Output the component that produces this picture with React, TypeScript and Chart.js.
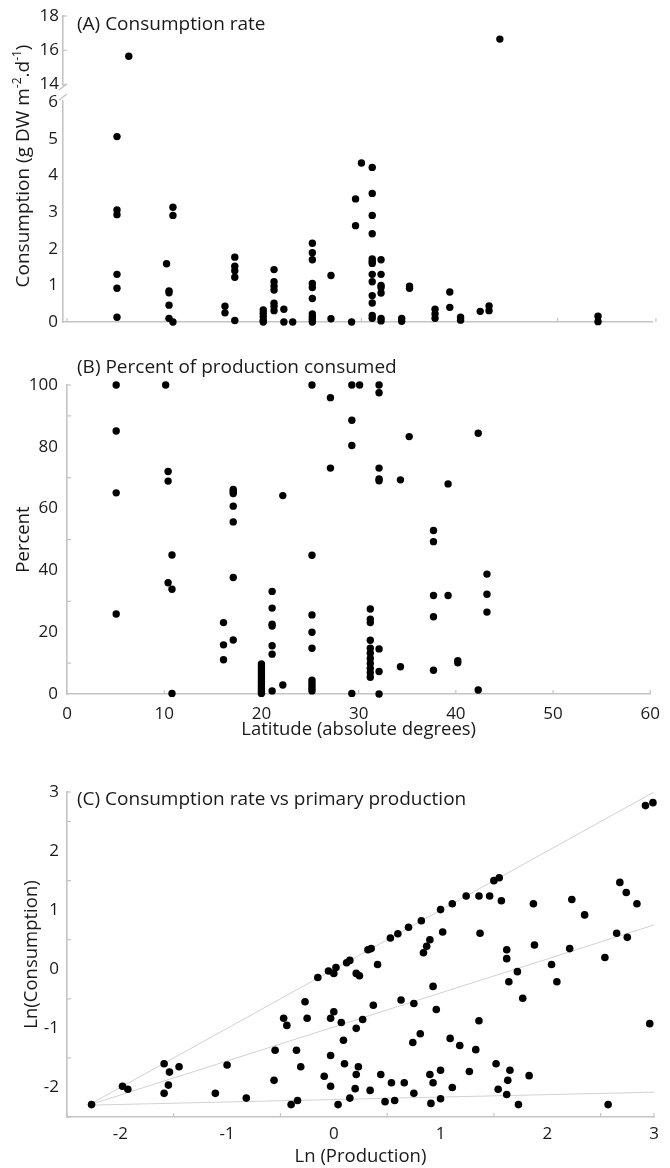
import React, { useEffect, useRef } from "react";
import { Chart, registerables } from "chart.js";
Chart.register(...registerables);

const FONT = '"Open Sans", "Noto Sans", sans-serif';
const AXIS = "#c4c4c4";
const TXT = "#1a1a1a";
const DOT = "#000000";

// ---------- Panel A: consumption rate vs latitude ----------
const latLow = [
  5.1, 5.1, 5.1, 5.1, 5.1, 5.1,
  10.15, 10.4, 10.4, 10.4, 10.4, 10.8, 10.8, 10.8,
  16.1, 16.1,
  17.1, 17.1, 17.1, 17.1, 17.1,
  20.0, 20.0, 20.0, 20.0, 20.0,
  21.1, 21.1, 21.1, 21.1, 21.1, 21.1, 21.1,
  22.1, 22.1, 23.0,
  25.0, 25.0, 25.0, 25.0, 25.0, 25.0, 25.0, 25.0, 25.0, 25.0,
  26.9, 26.9, 29.0, 29.4, 29.4, 30.0,
  31.1, 31.1, 31.1, 31.1, 31.1, 31.1, 31.1, 31.1, 31.1, 31.1, 31.1, 31.1, 31.1,
  32.0, 32.0, 32.0, 32.0, 32.0, 32.0, 32.0,
  34.1, 34.1, 34.9, 34.9,
  37.5, 37.5, 37.5, 39.0, 39.0, 40.1, 40.1, 42.1, 43.0, 43.0,
  54.1, 54.1,
];
const consLow = [
  5.06, 3.06, 2.93, 1.3, 0.92, 0.13,
  1.59, 0.85, 0.8, 0.46, 0.1, 3.13, 2.91, 0.0,
  0.43, 0.25,
  1.77, 1.52, 1.4, 1.22, 0.04,
  0.33, 0.24, 0.14, 0.05, 0.0,
  1.43, 1.1, 0.98, 0.87, 0.51, 0.42, 0.31,
  0.35, 0.0, 0.0,
  2.15, 1.89, 1.7, 1.05, 0.94, 0.64, 0.22, 0.14, 0.07, 0.0,
  1.27, 0.09, 0.0, 3.36, 2.63, 4.34,
  4.22, 3.51, 2.91, 2.41, 1.72, 1.65, 1.6, 1.3, 1.1, 0.72, 0.52, 0.18, 0.1,
  1.7, 1.3, 1.0, 0.94, 0.79, 0.1, 0.03,
  0.1, 0.02, 0.98, 0.92,
  0.35, 0.22, 0.1, 0.82, 0.4, 0.13, 0.05, 0.29, 0.44, 0.31,
  0.16, 0.01,
];
const latHigh = [6.3, 44.1];
const consHigh = [15.65, 16.65];
const consTicksLow = [0, 1, 2, 3, 4, 5, 6];
const consTicksHigh = [14, 16, 18];
const latTicks = [0, 10, 20, 30, 40, 50, 60];

// ---------- Panel B: percent of production consumed ----------
const latPct = [
  5.06, 5.06, 5.06, 5.06,
  10.15, 10.4, 10.4, 10.4, 10.8, 10.8, 10.8,
  16.1, 16.1, 16.1,
  17.1, 17.1, 17.1, 17.1, 17.1, 17.1, 17.1,
  20.0, 20.0, 20.0, 20.0, 20.0, 20.0, 20.0, 20.0, 20.0, 20.0, 20.0, 20.0, 20.0,
  21.1, 21.1, 21.1, 21.1, 21.1, 21.1, 21.1,
  22.2, 22.2,
  25.2, 25.2, 25.2, 25.2, 25.2, 25.2, 25.2, 25.2, 25.2, 25.2,
  27.1, 27.1, 29.3, 29.3, 29.3, 29.3, 30.1,
  31.2, 31.2, 31.2, 31.2, 31.2, 31.2, 31.2, 31.2, 31.2, 31.2, 31.2,
  32.1, 32.1, 32.1, 32.1, 32.1, 32.1, 32.1, 32.1,
  34.3, 34.3, 35.2,
  37.7, 37.7, 37.7, 37.7, 37.7,
  39.2, 39.2, 40.2, 40.2, 42.3, 42.3, 43.2, 43.2, 43.2,
];
const pct = [
  100, 85.1, 65.1, 25.9,
  100, 72.0, 68.9, 36.0, 45.0, 33.9, 0.2,
  23.1, 15.9, 11.1,
  66.2, 65.5, 64.9, 60.8, 55.7, 37.7, 17.5,
  9.7, 8.9, 8.1, 7.3, 6.5, 5.7, 4.9, 4.1, 3.3, 2.5, 1.7, 0.9, 0.2,
  33.2, 27.8, 22.6, 22.0, 15.6, 12.9, 1.0,
  64.2, 2.9,
  100, 44.9, 25.6, 20.0, 14.8, 4.5, 3.6, 2.7, 1.8, 1.0,
  95.9, 73.1, 100, 88.6, 80.4, 0.2, 100,
  27.5, 24.2, 23.1, 17.4, 14.8, 13.2, 11.5, 9.9, 8.3, 6.9, 5.4,
  100, 97.5, 73.1, 69.6, 69.0, 14.6, 7.3, 0.0,
  69.3, 8.8, 83.3,
  52.9, 49.3, 31.9, 25.0, 7.7,
  68.0, 31.9, 10.8, 10.1, 84.4, 1.3, 38.8, 32.3, 26.5,
];
const pctTicks = [0, 20, 40, 60, 80, 100];
const pctMinor = [10, 30, 50, 70, 90, 100];

// ---------- Panel C: ln consumption vs ln production ----------
const lnProd = [
  -2.27, -1.98, -1.93, -1.59, -1.54, -1.55, -1.59, -1.45, -1.11, -1.0, -0.82,
  -0.56, -0.55, -0.47, -0.44, -0.4, -0.34, -0.35, -0.31, -0.27, -0.25, -0.15,
  -0.09, -0.03, 0.0, -0.03, -0.03, -0.05, 0.0, 0.02, 0.04,
  0.12, 0.15, 0.21, 0.24, 0.32, 0.35, 0.41, 0.53, 0.6, 0.7, 0.82, 0.84, 0.87, 0.9,
  0.07, 0.21, 0.27, 0.37, 0.63, 0.75, 0.81, 0.74, 0.09, 0.1, 0.23, 0.21, 0.44, 0.9,
  1.0, 1.02, 1.11, 1.24, 1.36, 1.37, 1.46, 1.5, 1.55, 1.57, 1.87, 1.88, 2.23, 2.35,
  2.21, 2.04, 2.09, 1.62, 1.62, 1.72, 1.64, 1.77, 2.54, 2.65, 2.75, 2.68, 2.74,
  2.84, 2.92, 2.99, 2.96,
  0.93, 0.96, 1.36, 1.09, 1.18, 1.33, 1.0, 1.27, 1.52, 1.65, 1.83, 0.54, 0.66,
  0.93, 1.63, 0.2, 0.34, 0.75, 1.11, 1.54, 1.62, 0.15, 0.48, 0.57, 0.91, 1.0,
  1.73, 2.57,
];
const lnCons = [
  -2.29, -1.98, -2.03, -1.6, -1.74, -1.96, -2.1, -1.65, -2.1, -1.62, -2.18,
  -1.88, -1.37, -0.83, -0.95, -2.29, -2.22, -1.37, -1.65, -0.55, -0.83, -0.14,
  -1.81, -0.83, -0.72, -1.46, -1.98, -0.03, -0.07, 0.03, -2.29,
  0.11, 0.15, -0.07, -0.11, 0.33, 0.35, 0.08, 0.53, 0.6, 0.71, 0.82, 0.28, 0.39, 0.5,
  -0.9, -1.0, -0.85, -0.61, -0.52, -0.58, -1.09, -1.24, -1.2, -1.6, -1.65, -1.78, -1.78, -1.78,
  1.01, 0.63, 1.11, 1.24, 1.24, 0.61, 1.24, 1.5, 1.55, 1.16, 1.11, 0.41, 1.18, 0.92,
  0.35, 0.08, -0.21, 0.33, 0.18, -0.04, -0.21, -0.49, 0.2, 0.61, 0.54, 1.47, 1.3,
  1.11, 2.77, 2.82, -0.92,
  -0.29, -0.68, -0.87, -1.17, -1.29, -1.36, -1.71, -1.73, -1.6, -1.71, -1.8, -1.92, -1.92,
  -1.92, -1.88, -2.02, -2.05, -2.1, -2.0, -2.03, -2.12, -2.18, -2.24, -2.22, -2.27, -2.19,
  -2.29, -2.29,
];
const lnTicks = [-2, -1, 0, 1, 2, 3];
const lnMinor = [-2.5, -1.5, -0.5, 0.5, 1.5, 2.5, 3];
const refX = [-2.3, 3];
const refUpper = [-2.3, 3.0];
const refMiddle = [-2.3, 0.75];
const refLower = [-2.3, -2.08];

const zip = (xs: number[], ys: number[]) => xs.map((x, i) => ({ x, y: ys[i] }));
const fixTicks = (vals: number[]) => (s: any) => {
  s.ticks = vals.map((v) => ({ value: v }));
};

const TICK_SIZE = 17;
const AXIS_TITLE_SIZE = 18.5;
const PANEL_TITLE_SIZE = 19;
const tickFont = { family: FONT, size: TICK_SIZE };
const titleFont = { family: FONT, size: AXIS_TITLE_SIZE };
const LH = AXIS_TITLE_SIZE * 1.2;

const tickOpts = (padding: number) => ({
  font: tickFont,
  color: TXT,
  padding,
  autoSkip: false,
  maxRotation: 0,
  minRotation: 0,
});

const dotSet = (data: any[], extra: any = {}) => ({
  data,
  backgroundColor: DOT,
  borderWidth: 0,
  pointRadius: 3.7,
  pointHoverRadius: 3.7,
  clip: false as any,
  ...extra,
});

const lineSet = (ys: number[]) => ({
  type: "line" as const,
  data: zip(refX, ys),
  borderColor: "#d2d2d2",
  borderWidth: 1,
  pointRadius: 0,
  showLine: true,
  fill: false,
  clip: false as any,
});

const inTicks = (specs: { id: string; values: number[]; len: number }[]) => ({
  id: "inTicks",
  beforeDatasetsDraw(chart: any) {
    const ctx = chart.ctx;
    ctx.save();
    ctx.strokeStyle = AXIS;
    ctx.lineWidth = 1.2;
    for (const sp of specs) {
      const s = chart.scales[sp.id];
      for (const v of sp.values) {
        const p = s.getPixelForValue(v);
        ctx.beginPath();
        if (s.isHorizontal()) {
          ctx.moveTo(p, s.top);
          ctx.lineTo(p, s.top - sp.len);
        } else {
          ctx.moveTo(s.right, p);
          ctx.lineTo(s.right + sp.len, p);
        }
        ctx.stroke();
      }
    }
    ctx.restore();
  },
});

const panelTitle = (text: string, x: number, y: number) => ({
  id: "panelTitle",
  afterDraw(chart: any) {
    const ctx = chart.ctx;
    ctx.save();
    ctx.font = `${PANEL_TITLE_SIZE}px ${FONT}`;
    ctx.fillStyle = TXT;
    ctx.textAlign = "left";
    ctx.textBaseline = "middle";
    ctx.fillText(text, x, y);
    ctx.restore();
  },
});

const consTitle = {
  id: "consTitle",
  afterDraw(chart: any) {
    const ctx = chart.ctx;
    const parts: [string, boolean][] = [
      ["Consumption (g DW m", false],
      ["-2", true],
      [".d", false],
      ["-1", true],
      [")", false],
    ];
    const fMain = `${AXIS_TITLE_SIZE + 0.5}px ${FONT}`;
    const fSup = `12px ${FONT}`;
    ctx.save();
    ctx.translate(24, 166);
    ctx.rotate(-Math.PI / 2);
    let total = 0;
    for (const [t, sup] of parts) {
      ctx.font = sup ? fSup : fMain;
      total += ctx.measureText(t).width;
    }
    let x = -total / 2;
    ctx.fillStyle = TXT;
    ctx.textAlign = "left";
    ctx.textBaseline = "middle";
    for (const [t, sup] of parts) {
      ctx.font = sup ? fSup : fMain;
      ctx.fillText(t, x, sup ? -6 : 0);
      x += ctx.measureText(t).width;
    }
    ctx.restore();
  },
};

const axisBreak = {
  id: "axisBreak",
  afterDraw(chart: any) {
    const ctx = chart.ctx;
    const yLow = chart.scales.y;
    const x = yLow.right;
    const yb = yLow.top;
    ctx.save();
    ctx.fillStyle = "#ffffff";
    ctx.fillRect(x - 3, yb - 7, 6, 14);
    ctx.strokeStyle = AXIS;
    ctx.lineWidth = 1.3;
    ctx.beginPath();
    ctx.moveTo(x - 4, yb - 3);
    ctx.lineTo(x + 4, yb - 9);
    ctx.moveTo(x - 4, yb + 7);
    ctx.lineTo(x + 4, yb + 1);
    ctx.stroke();
    ctx.restore();
  },
};

const baseScale = {
  type: "linear" as const,
  grid: { display: false, drawTicks: false },
  border: { display: true, color: AXIS, width: 1.6 },
};

function configA(): any {
  return {
    type: "scatter",
    data: {
      datasets: [
        dotSet(zip(latLow, consLow), { yAxisID: "y" }),
        dotSet(zip(latHigh, consHigh), { yAxisID: "y2" }),
      ],
    },
    options: {
      responsive: false,
      animation: false,
      events: [],
      layout: { padding: { left: 0, right: 18, top: 16, bottom: 0 } },
      plugins: { legend: { display: false }, tooltip: { enabled: false } },
      scales: {
        x: {
          ...baseScale,
          min: -0.4,
          max: 59.6,
          ticks: { display: false },
          afterFit: (s: any) => {
            s.height = 18;
          },
        },
        y: {
          ...baseScale,
          position: "left",
          stack: "cons",
          stackWeight: 229,
          min: 0,
          max: 6.25,
          afterBuildTicks: fixTicks(consTicksLow),
          ticks: tickOpts(5),
          afterFit: (s: any) => {
            s.width = 63;
          },
        },
        y2: {
          ...baseScale,
          position: "left",
          stack: "cons",
          stackWeight: 77,
          min: 13.5,
          max: 18,
          afterBuildTicks: fixTicks(consTicksHigh),
          ticks: tickOpts(4),
          afterFit: (s: any) => {
            s.width = 63;
          },
        },
      },
    },
    plugins: [
      inTicks([
        { id: "x", values: latTicks, len: 4 },
        { id: "y2", values: consTicksHigh, len: 4 },
      ]),
      axisBreak,
      consTitle,
      panelTitle("(A) Consumption rate", 77, 25),
    ],
  };
}

function configB(): any {
  return {
    type: "scatter",
    data: { datasets: [dotSet(zip(latPct, pct))] },
    options: {
      responsive: false,
      animation: false,
      events: [],
      layout: { padding: { left: 0, right: 14, top: 45, bottom: 0 } },
      plugins: { legend: { display: false }, tooltip: { enabled: false } },
      scales: {
        x: {
          ...baseScale,
          min: 0,
          max: 60,
          afterBuildTicks: fixTicks(latTicks),
          ticks: tickOpts(10),
          title: {
            display: true,
            text: "Latitude (absolute degrees)",
            font: titleFont,
            color: TXT,
            padding: { top: 0, bottom: 420 - 390 - LH / 2 },
          },
          afterFit: (s: any) => {
            s.height = 66;
          },
        },
        y: {
          ...baseScale,
          min: 0,
          max: 100,
          afterBuildTicks: fixTicks(pctTicks),
          ticks: tickOpts(9),
          title: {
            display: true,
            text: "Percent",
            font: titleFont,
            color: TXT,
            padding: { top: 24 - LH / 2, bottom: 0 },
          },
          afterFit: (s: any) => {
            s.width = 67;
          },
        },
      },
    },
    plugins: [
      inTicks([
        { id: "x", values: latTicks, len: 4 },
        { id: "y", values: pctMinor, len: 4 },
      ]),
      panelTitle("(B) Percent of production consumed", 77, 28),
    ],
  };
}

function configC(): any {
  return {
    type: "scatter",
    data: {
      datasets: [
        dotSet(zip(lnProd, lnCons), { pointRadius: 3.8 }),
        lineSet(refUpper),
        lineSet(refMiddle),
        lineSet(refLower),
      ],
    },
    options: {
      responsive: false,
      animation: false,
      events: [],
      layout: { padding: { left: 0, right: 16, top: 32, bottom: 0 } },
      plugins: { legend: { display: false }, tooltip: { enabled: false } },
      scales: {
        x: {
          ...baseScale,
          min: -2.5,
          max: 3,
          afterBuildTicks: fixTicks(lnTicks),
          ticks: tickOpts(7),
          title: {
            display: true,
            text: "Ln (Production)",
            font: titleFont,
            color: TXT,
            padding: { top: 0, bottom: Math.max(0, 408 - 398 - LH / 2) },
          },
          afterFit: (s: any) => {
            s.height = 51;
          },
        },
        y: {
          ...baseScale,
          min: -2.5,
          max: 3,
          afterBuildTicks: fixTicks(lnTicks),
          ticks: tickOpts(8),
          title: {
            display: true,
            text: "Ln(Consumption)",
            font: titleFont,
            color: TXT,
            padding: { top: 32 - LH / 2, bottom: 0 },
          },
          afterFit: (s: any) => {
            s.width = 67;
          },
        },
      },
    },
    plugins: [
      inTicks([
        { id: "x", values: lnMinor, len: 4 },
        { id: "y", values: lnMinor, len: 4 },
      ]),
      panelTitle("(C) Consumption rate vs primary production", 77, 40),
    ],
  };
}

export default function App() {
  const refA = useRef<HTMLCanvasElement>(null);
  const refB = useRef<HTMLCanvasElement>(null);
  const refC = useRef<HTMLCanvasElement>(null);

  useEffect(() => {
    const charts = [
      new Chart(refA.current as HTMLCanvasElement, configA()),
      new Chart(refB.current as HTMLCanvasElement, configB()),
      new Chart(refC.current as HTMLCanvasElement, configC()),
    ];
    return () => charts.forEach((c) => c.destroy());
  }, []);

  const cv = (top: number, h: number): React.CSSProperties => ({
    position: "absolute",
    left: 0,
    top,
    width: 670,
    height: h,
  });

  return (
    <div
      style={{
        position: "absolute",
        left: 0,
        top: 0,
        width: 670,
        height: 1168,
        background: "#ffffff",
        overflow: "hidden",
      }}
    >
      <canvas ref={refA} width={670} height={340} style={cv(0, 340)} />
      <canvas ref={refB} width={670} height={420} style={cv(340, 420)} />
      <canvas ref={refC} width={670} height={408} style={cv(760, 408)} />
    </div>
  );
}
